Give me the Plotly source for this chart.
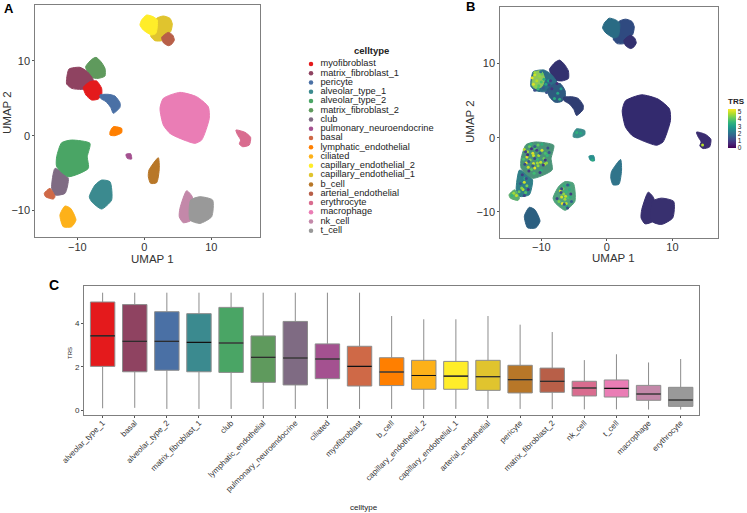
import plotly.graph_objects as go

W, H = 747, 513

# --- legend order, colours ---
celltypes = ["myofibroblast","matrix_fibroblast_1","pericyte","alveolar_type_1","alveolar_type_2",
             "matrix_fibroblast_2","club","pulmonary_neuroendocrine","basal","lymphatic_endothelial",
             "ciliated","capillary_endothelial_2","capillary_endothelial_1","b_cell","arterial_endothelial",
             "erythrocyte","macrophage","nk_cell","t_cell"]
legend_colors = ["#E41A1C","#8F4361","#4A70A5","#3B8A8F","#4AA565","#5F9A5D","#7F6B83","#A45190","#CF6947",
                 "#FF7F00","#FDB119","#FFED29","#E0C42E","#B87728","#B85F48","#D96C8F","#EA7DB5","#C388A9","#999999"]
# mean TRS tint of each cluster in panel B
trs_tints = ["#2F5A80","#2C6E86","#2F3D72","#4FA27C","#4A9478","#33316F","#2F7F88","#2A8F8E","#5CAE70",
             "#3A8C8A","#2C5F80","#2A6B84","#2F4A80","#30748A","#33306F","#3A2C70","#332A6E","#38306F","#38306F"]

# --- cluster outlines (UMAP coordinates) ---
outline_x = {
 "matrix_fibroblast_2":[-8.76,-7.86,-7.21,-6.47,-5.87,-5.87,-6.87,-8.01,-8.51],
 "matrix_fibroblast_1":[-11.59,-11.24,-9.6,-8.51,-7.61,-8.11,-9.35,-10.85,-11.59],
 "myofibroblast":[-9.1,-8.11,-7.11,-6.37,-6.37,-6.87,-7.86,-8.71],
 "pericyte":[-6.62,-5.37,-4.38,-3.63,-3.63,-4.63,-5.02,-5.72,-6.52],
 "macrophage":[2.34,2.84,5.32,7.81,9.55,9.7,8.56,7.56,5.32,3.83,2.84],
 "erythrocyte":[13.68,15.03,15.87,15.67,14.68,14.18,14.38,13.88],
 "lymphatic_endothelial":[-5.12,-4.63,-3.38,-3.38,-4.38,-5.12],
 "pulmonary_neuroendocrine":[-2.74,-2.04,-1.89,-2.54],
 "b_cell":[0.7,2.09,2.24,1.84,0.95,0.6],
 "club":[-13.33,-12.08,-11.34,-11.84,-13.33,-13.83],
 "basal":[-14.93,-14.08,-13.33,-13.58,-14.73],
 "alveolar_type_2":[-13.08,-12.34,-10.85,-8.11,-8.51,-8.36,-11.34,-13.08],
 "alveolar_type_1":[-7.36,-6.37,-5.12,-4.88,-6.37,-7.86,-8.21],
 "ciliated":[-12.59,-11.84,-11.0,-10.2,-10.85,-12.09],
 "nk_cell":[5.32,6.32,7.16,7.06,5.82,5.22],
 "t_cell":[6.92,8.31,10.2,10.05,8.31,6.82],
 "capillary_endothelial_1":[1.84,2.84,3.83,4.18,3.93,3.33,2.59,1.59,0.95,1.44,1.59],
 "capillary_endothelial_2":[-0.4,0.35,1.34,1.94,1.74,1.09,-0.15,-0.65],
 "arterial_endothelial":[2.59,3.58,4.23,4.48,4.08,3.58,2.84],
}
outline_y = {
 "matrix_fibroblast_2":[9.22,10.2,10.47,9.89,9.0,7.98,7.66,7.8,8.56],
 "matrix_fibroblast_1":[7.66,8.91,9.14,8.56,7.44,6.46,6.19,6.33,6.91],
 "myofibroblast":[6.46,7.22,7.31,6.33,5.44,4.9,4.77,5.44],
 "pericyte":[5.44,5.53,5.3,4.41,3.79,2.99,3.79,4.55,4.99],
 "macrophage":[3.65,4.99,5.79,5.21,3.88,2.32,-0.58,-1.02,-0.36,0.31,1.43],
 "erythrocyte":[0.76,0.45,-0.22,-1.25,-1.47,-1.11,-0.58,0.18],
 "lymphatic_endothelial":[0.53,1.2,0.98,0.4,0.0,0.09],
 "pulmonary_neuroendocrine":[-2.5,-2.41,-3.12,-3.03],
 "b_cell":[-4.59,-2.94,-4.37,-6.28,-6.37,-5.48],
 "club":[-4.37,-5.04,-5.7,-7.71,-7.93,-7.04],
 "basal":[-7.71,-7.04,-8.16,-8.47,-8.16],
 "alveolar_type_2":[-2.81,-0.94,-0.58,-1.02,-2.81,-4.37,-5.48,-4.14],
 "alveolar_type_1":[-6.6,-5.93,-6.15,-8.6,-9.8,-8.82,-8.16],
 "ciliated":[-10.6,-9.4,-9.71,-11.27,-12.17,-12.17],
 "nk_cell":[-9.71,-7.35,-8.16,-11.27,-11.63,-10.83],
 "t_cell":[-8.6,-8.16,-8.6,-10.83,-11.72,-11.27],
 "capillary_endothelial_1":[15.69,16.0,15.69,14.93,13.9,13.46,12.7,12.7,13.32,14.13,15.02],
 "capillary_endothelial_2":[15.46,16.13,15.9,15.46,13.68,13.46,14.13,14.8],
 "arterial_endothelial":[13.15,13.81,13.46,12.79,12.21,12.03,12.43],
}
draw_order = list(outline_x.keys())

# --- high-TRS zone of matrix_fibroblast_1 in panel B ---
hot_x = [-11.4,-10.9,-10.0,-9.5,-9.9,-10.8,-11.4]
hot_y = [7.6,8.9,9.0,8.0,6.9,6.6,7.0]

# --- individually read spots of panel B ---
spot_x = [-11.4,-11.0,-10.7,-10.3,-10.0,-9.6,-11.2,-10.8,-10.4,-9.9,-11.0,-10.5,-9.3,-8.9,
          -12.6,-12.2,-11.8,-11.3,-10.9,-10.4,-9.9,-9.4,-12.3,-11.7,-11.2,-10.6,-10.1,-9.6,-9.1,
          -12.0,-11.5,-11.0,-10.5,-10.0,-9.5,-12.7,-12.1,-11.6,-11.1,-10.5,-9.9,-9.2,-11.2,-10.6,
          -12.6,-12.2,-12.8,-12.4,-13.0,-12.5,-14.2,-13.8,-13.4,-14.5,
          -7.1,-6.7,-6.2,-5.7,-6.9,-6.4,-5.9,-7.3,-6.8,-6.2,-5.6,-6.6,-6.1,-6.5,-5.8,-6.3,
          -4.6,-4.0,-2.2,14.6,-7.5,-7.0,-8.0,-7.2,
          -12.4,-11.9,-11.5,-11.0,-10.2,-9.7,-9.0,-12.1,-11.3,-10.7,-9.4,-8.8,-12.5,-11.9,-11.0,-10.2,
          -8.8,-8.4,-9.2,-8.6,-7.6,-9.7,-10.1,-11.0,
          -6.0,-7.0,-5.5,-6.5,-7.6,-5.4,-6.9,-6.0,
          -12.9,-12.3,-12.0,-13.2,-12.6]
spot_y = [8.1,8.5,7.7,8.3,7.5,7.9,7.2,6.9,7.0,8.6,8.8,6.6,7.2,7.7,
          -1.6,-2.6,-1.2,-2.1,-1.5,-2.4,-1.7,-2.1,-3.4,-3.0,-3.5,-2.9,-3.3,-2.8,-2.4,
          -4.0,-4.3,-4.1,-3.8,-4.4,-3.6,-2.9,-1.9,-0.9,-4.8,-1.0,-0.9,-3.4,-2.4,-3.4,
          -6.0,-6.5,-7.0,-7.4,-6.8,-5.5,-7.5,-7.8,-7.3,-7.8,
          -7.2,-6.9,-7.3,-7.0,-8.0,-8.3,-8.1,-8.6,-8.9,-8.9,-8.0,-7.6,-9.3,-6.5,-6.4,-7.9,
          0.7,0.6,-3.0,-1.0,6.0,6.6,5.3,5.2,
          -1.9,-3.2,-1.5,-2.8,-2.1,-3.7,-1.4,-2.3,-3.8,-1.7,-3.0,-2.0,-3.6,-4.5,-1.2,-4.7,
          7.1,6.6,6.1,7.7,7.3,6.7,8.9,6.4,
          -6.4,-7.4,-7.6,-9.0,-8.2,-8.6,-6.9,-9.5,
          -5.0,-5.5,-7.0,-6.2,-7.8]
spot_trs = [5.2,5.0,4.8,4.5,3.8,3.4,5.1,4.4,3.9,4.1,4.6,3.6,3.2,3.0,
            4.8,5.2,4.2,5.1,3.9,4.7,5.0,3.8,5.2,4.4,5.0,3.6,4.9,4.2,3.6,
            4.9,4.0,5.2,4.5,3.4,4.8,3.8,4.6,3.5,3.7,4.1,3.4,4.5,5.0,4.6,
            5.0,4.3,4.8,3.9,4.4,3.4,4.6,4.9,4.2,3.6,
            5.0,4.2,3.6,3.4,5.1,4.6,3.8,4.3,5.2,4.8,3.4,4.5,3.2,3.4,3.0,4.9,
            3.5,3.2,3.3,4.8,3.2,3.0,3.3,3.4,
            1.0,1.4,0.8,1.2,1.6,0.9,1.3,0.7,1.5,1.1,0.8,1.4,1.2,0.9,1.6,1.0,
            1.2,0.8,1.4,1.0,0.7,1.5,2.0,1.3,
            1.5,1.2,0.9,1.4,1.1,1.6,1.0,1.3,
            1.0,1.3,0.8,1.5,1.1]
trs_ticks = [0,1,2,3,4,5]

# --- panel C summary, sorted as drawn ---
box_types = ["alveolar_type_1","basal","alveolar_type_2","matrix_fibroblast_1","club","lymphatic_endothelial",
             "pulmonary_neuroendocrine","ciliated","myofibroblast","b_cell","capillary_endothelial_2",
             "capillary_endothelial_1","arterial_endothelial","pericyte","matrix_fibroblast_2","nk_cell",
             "t_cell","macrophage","erythrocyte"]
box_colors = ["#E41A1C","#8F4361","#4A70A5","#3B8A8F","#4AA565","#5F9A5D","#7F6B83","#A45190","#CF6947","#FF7F00",
              "#FDB119","#FFED29","#E0C42E","#B87728","#B85F48","#D96C8F","#EA7DB5","#C388A9","#999999"]
q3 = [5.0,4.88,4.55,4.46,4.75,3.43,4.1,3.06,2.95,2.42,2.3,2.25,2.3,2.07,1.94,1.33,1.39,1.14,1.05]
med = [3.43,3.18,3.18,3.13,3.1,2.44,2.41,2.36,2.02,1.76,1.6,1.57,1.54,1.4,1.33,1.02,1.0,0.74,0.46]
q1 = [2.02,1.77,1.84,1.77,1.74,1.28,1.16,1.45,1.11,1.13,0.96,0.96,0.91,0.79,0.82,0.65,0.6,0.45,0.17]
whisk_hi = [5.43,5.43,5.43,5.43,5.43,5.43,5.43,5.43,5.43,4.35,4.2,4.2,4.35,3.95,3.61,2.31,2.58,2.2,2.36]
whisk_lo = [0.08,0.1,0.05,0.05,0.05,0.05,0.05,0.05,0.05,0.05,0.05,0.05,0.05,0.05,0.04,0.03,0.03,0.02,0.02]

fig = go.Figure()

def px_x(a, b):
    return [a / W, b / W]

def px_y(top, bottom):
    return [1 - bottom / H, 1 - top / H]

for name in draw_order:
    i = celltypes.index(name)
    xs = outline_x[name] + outline_x[name][:1]
    ys = outline_y[name] + outline_y[name][:1]
    fig.add_trace(go.Scatter(x=xs, y=ys, mode="lines", fill="toself", fillcolor=legend_colors[i],
                             line=dict(color=legend_colors[i], width=1, shape="spline", smoothing=0.6),
                             xaxis="x", yaxis="y", showlegend=False, name=name))
    fig.add_trace(go.Scatter(x=xs, y=ys, mode="lines", fill="toself", fillcolor=trs_tints[i],
                             line=dict(color=trs_tints[i], width=1, shape="spline", smoothing=0.6),
                             xaxis="x2", yaxis="y2", showlegend=False, name=name))

fig.add_trace(go.Scatter(x=hot_x + hot_x[:1], y=hot_y + hot_y[:1], mode="lines", fill="toself", fillcolor="#8EC75A",
                         line=dict(color="#8EC75A", width=1, shape="spline", smoothing=0.6),
                         xaxis="x2", yaxis="y2", showlegend=False, name="high TRS"))

fig.add_trace(go.Scatter(x=spot_x, y=spot_y, mode="markers", xaxis="x2", yaxis="y2", showlegend=False,
                         marker=dict(size=3, color=spot_trs, cmin=0, cmax=5.4, colorscale="Viridis", line=dict(width=0),
                                     colorbar=dict(title=dict(text="<b>TRS</b>", font=dict(size=8, color="#222"), side="top"),
                                                   thickness=8, thicknessmode="pixels", len=53, lenmode="pixels",
                                                   x=728 / W, xanchor="left", y=1 - 148 / H, yanchor="bottom",
                                                   tickvals=trs_ticks, ticks="", outlinewidth=0,
                                                   tickfont=dict(size=6.5, color="#222"), xpad=0, ypad=0))))

fig.add_trace(go.Scatter(x=[0] * len(celltypes), y=list(range(len(celltypes))), mode="markers",
                         marker=dict(size=4.5, color=legend_colors), xaxis="x4", yaxis="y4", showlegend=False,
                         cliponaxis=False))
fig.add_trace(go.Scatter(x=[0.068] * len(celltypes), y=list(range(len(celltypes))), mode="text",
                         text=celltypes, textposition="middle right", textfont=dict(size=9.3, color="#222"),
                         xaxis="x4", yaxis="y4", showlegend=False, cliponaxis=False))

for t, c, a, m, b, h, l in zip(box_types, box_colors, q1, med, q3, whisk_hi, whisk_lo):
    fig.add_trace(go.Box(x=[t], q1=[a], median=[m], q3=[b], lowerfence=[l], upperfence=[h], width=0.76,
                         fillcolor=c, line=dict(color="#8c8c8c", width=1), whiskerwidth=0,
                         xaxis="x3", yaxis="y3", showlegend=False, name=t, boxpoints=False))
    fig.add_trace(go.Box(x=[t], q1=[m], median=[m], q3=[m], lowerfence=[m], upperfence=[m], width=0.76,
                         fillcolor="rgba(0,0,0,0)", line=dict(color="#111111", width=1.1), whiskerwidth=0,
                         xaxis="x3", yaxis="y3", showlegend=False, name=t, boxpoints=False))

umap_axis = dict(automargin=False, showgrid=False, zeroline=False, showline=True, linecolor="#7f7f7f", linewidth=1,
                 mirror=True, ticks="outside", ticklen=2, tickcolor="#555", tickvals=[-10, 0, 10],
                 ticktext=["\u221210", "0", "10"], tickfont=dict(size=11, color="#333"))

def note(text, px, py, size, color="black", xanchor="left", angle=0):
    return dict(text=text, x=px / W, y=1 - py / H, xref="paper", yref="paper", xanchor=xanchor, yanchor="middle",
                showarrow=False, textangle=angle, font=dict(size=size, color=color))

layout = dict(
    template="none",
    width=W, height=H, autosize=False, margin=dict(l=0, r=0, t=0, b=0, pad=0), paper_bgcolor="white", plot_bgcolor="white",
    font=dict(family="Liberation Sans, Arial, sans-serif"), boxmode="overlay",
    xaxis=dict(umap_axis, domain=px_x(35.3, 260), range=[-16.27, 17.27], anchor="y", ticklabelstandoff=-3),
    yaxis=dict(umap_axis, domain=px_y(5.3, 237.3), range=[-13.58, 17.43], anchor="x"),
    xaxis2=dict(umap_axis, domain=px_x(500.3, 718.3), range=[-16.26, 17.0], anchor="y2", ticklabelstandoff=-3),
    yaxis2=dict(umap_axis, domain=px_y(6.7, 238), range=[-13.54, 17.68], anchor="x2"),
    xaxis3=dict(automargin=False, domain=px_x(84, 699.3), type="category", categoryorder="array", categoryarray=box_types,
                range=[-0.58, 18.58], anchor="y3", showgrid=False, showline=True, linecolor="#7f7f7f", linewidth=1, mirror=True,
                ticks="outside", ticklen=2, tickcolor="#555", tickangle=-45, ticklabelstandoff=-3,
                tickfont=dict(size=8, color="#333")),
    yaxis3=dict(automargin=False, domain=px_y(286, 415.3), range=[-0.245, 5.74], anchor="x3", showgrid=False, zeroline=False,
                showline=True, linecolor="#7f7f7f", linewidth=1, mirror=True, ticks="outside", ticklen=2, tickcolor="#555",
                tickvals=[0, 2, 4], tickfont=dict(size=8, color="#333")),
    xaxis4=dict(domain=px_x(311, 450), range=[0, 1], visible=False, anchor="y4"),
    yaxis4=dict(domain=px_y(59.4, 235.3), range=[18.5, -0.5], visible=False, anchor="x4"),
    annotations=[
        note("<b>A</b>", 2, 8, 13),
        note("<b>B</b>", 464, 7, 13),
        note("<b>C</b>", 47, 285, 14),
        note("<b>celltype</b>", 371, 50, 9.5, "#222", "center"),
        note("UMAP 1", 152, 259, 11.5, "#333", "center"),
        note("UMAP 2", 7, 113, 11.5, "#333", "center", -90),
        note("UMAP 1", 613, 258, 11.5, "#333", "center"),
        note("UMAP 2", 470, 122, 11.5, "#333", "center", -90),
        note("TRS", 70, 353, 6, "#222", "center", -90),
        note("celltype", 364, 507, 8, "#222", "center"),
    ],
)
fig.update_layout(**layout)
fig.write_html("out.html", post_script="document.body.style.margin='0';", config=dict(displayModeBar=False))
